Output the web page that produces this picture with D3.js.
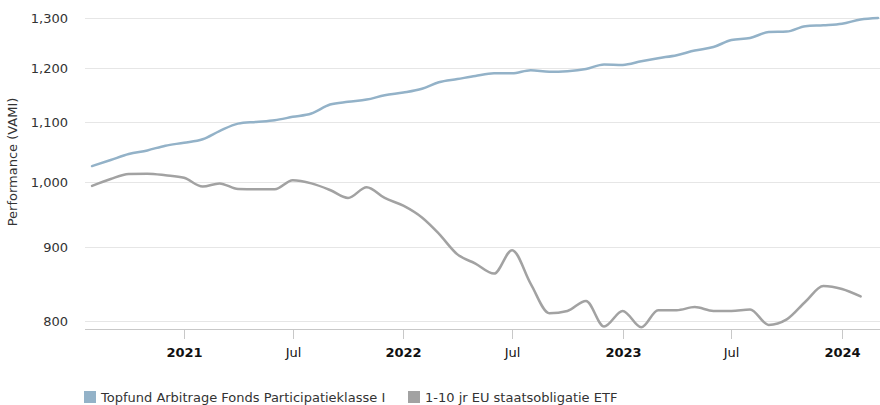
<!DOCTYPE html>
<html>
<head>
<meta charset="utf-8">
<script src="https://cdn.jsdelivr.net/npm/d3@7"></script>
<style>
  body { margin: 0; background: #fff; }
  svg { font-family: Verdana, "DejaVu Sans", sans-serif; }
</style>
</head>
<body>
<div id="chart"></div>
<script>
// monthly observations, first of month, Aug 2020 .. Mar 2024
const months = d3.utcMonth.range(new Date(Date.UTC(2020, 7, 1)), new Date(Date.UTC(2024, 3, 1)));

const seriesNames = ["Topfund Arbitrage Fonds Participatieklasse I", "1-10 jr EU staatsobligatie ETF"];
const seriesColors = ["#93b2c8", "#a2a2a2"];

const topfund = [
    1025, 1035, 1045, 1051, 1059,
    1064, 1070, 1084, 1097, 1100, 1103, 1109, 1115, 1131, 1136, 1140, 1148,
    1153, 1160, 1172, 1178, 1184, 1189, 1189, 1195, 1192, 1193, 1197, 1206,
    1205, 1212, 1218, 1224, 1233, 1240, 1254, 1258, 1270, 1271, 1282, 1284,
    1287, 1296, 1299
];

const etf = [
    993, 1004, 1012, 1012.5, 1010,
    1006, 992, 997, 988, 987.6, 987.6, 1002, 997, 986.5, 974, 991, 974,
    962, 944, 920, 890, 877, 863, 896, 849, 810, 813, 826, 793,
    813, 792, 814, 814, 818, 813, 813, 815, 795, 802, 825, 846,
    842, 832
];

const yTicks = [800, 900, 1000, 1100, 1200, 1300];

const width = 880, height = 405;
const plotLeft = 85, plotRight = 880, plotBottom = 329;

const svg = d3.select("#chart").append("svg")
    .attr("width", width)
    .attr("height", height);

const x = d3.scaleUtc()
    .domain([new Date(Date.UTC(2021, 0, 1)), new Date(Date.UTC(2024, 0, 1))])
    .range([184, 842]);

const y = d3.scaleLog()
    .domain([800, 1300])
    .range([321, 17.5]);

// grid + y labels
svg.append("g")
    .selectAll("line")
    .data(yTicks)
    .enter()
    .append("line")
        .attr("x1", plotLeft)
        .attr("x2", plotRight)
        .attr("y1", d => Math.round(y(d)) + 0.5)
        .attr("y2", d => Math.round(y(d)) + 0.5)
        .attr("stroke", "#e6e6e6")
        .attr("stroke-width", 1);

svg.append("g")
    .selectAll("text")
    .data(yTicks)
    .enter()
    .append("text")
        .attr("x", 68)
        .attr("y", d => y(d) + 5)
        .attr("text-anchor", "end")
        .style("font-size", "13px")
        .style("fill", "#333")
        .text(d => d3.format(",")(d));

svg.append("text")
    .attr("transform", "translate(17 162) rotate(-90)")
    .attr("text-anchor", "middle")
    .style("font-size", "13px")
    .style("fill", "#333")
    .text("Performance (VAMI)");

// x axis
const xTicks = d3.utcMonth.every(6).range(new Date(Date.UTC(2021, 0, 1)), new Date(Date.UTC(2024, 2, 1)));

svg.append("line")
    .attr("x1", plotLeft)
    .attr("x2", plotRight)
    .attr("y1", plotBottom + 0.5)
    .attr("y2", plotBottom + 0.5)
    .attr("stroke", "#c8c8c8")
    .attr("stroke-width", 1);

const tick = svg.append("g")
    .selectAll("g")
    .data(xTicks)
    .enter()
    .append("g")
        .attr("transform", d => `translate(${Math.round(x(d)) + 0.5} 0)`);

tick.append("line")
    .attr("y1", plotBottom)
    .attr("y2", plotBottom + 10)
    .attr("stroke", "#c8c8c8");

tick.append("text")
    .attr("y", 357)
    .attr("text-anchor", "middle")
    .style("font-size", "13px")
    .style("fill", "#111")
    .style("font-weight", d => d.getUTCMonth() === 0 ? "bold" : "normal")
    .text(d => d.getUTCMonth() === 0 ? d3.utcFormat("%Y")(d) : "Jul");

// lines
const line = d3.line()
    .x(d => x(d[0]))
    .y(d => y(d[1]))
    .curve(d3.curveMonotoneX);

[topfund, etf].forEach((values, i) => {
    svg.append("path")
        .datum(values.map((v, j) => [months[j], v]))
        .attr("d", line)
        .attr("fill", "none")
        .attr("stroke", seriesColors[i])
        .attr("stroke-width", 2.5)
        .attr("stroke-linejoin", "round")
        .attr("stroke-linecap", "round");
});

// legend
const legendX = [84, 408];
const legend = svg.append("g")
    .selectAll("g")
    .data(seriesNames)
    .enter()
    .append("g")
        .attr("transform", (d, i) => `translate(${legendX[i]} 391)`);

legend.append("rect")
    .attr("width", 12)
    .attr("height", 12)
    .attr("fill", (d, i) => seriesColors[i]);

legend.append("text")
    .attr("x", 17)
    .attr("y", 11)
    .style("font-size", "13px")
    .style("fill", "#333")
    .text(d => d);
</script>
</body>
</html>
